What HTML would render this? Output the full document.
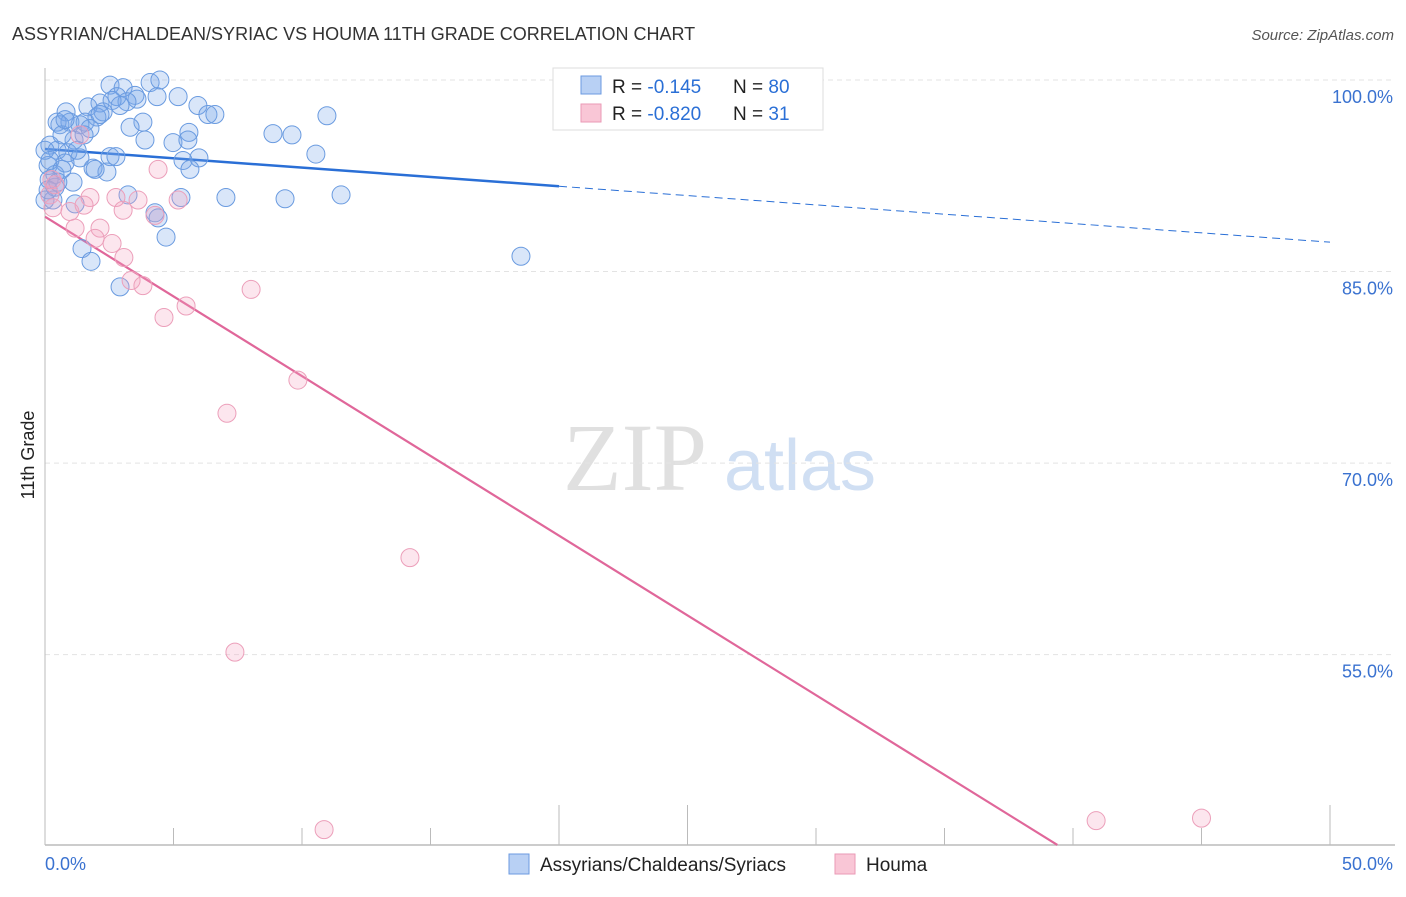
<!DOCTYPE html>
<html><head><meta charset="utf-8"><style>
body{margin:0;background:#fff;font-family:"Liberation Sans",sans-serif}
</style></head><body>
<svg width="1406" height="892" xmlns="http://www.w3.org/2000/svg" id="chart" font-family="Liberation Sans, sans-serif">
<text x="12" y="40" font-size="18" fill="#333">ASSYRIAN/CHALDEAN/SYRIAC VS HOUMA 11TH GRADE CORRELATION CHART</text>
<text x="1394" y="40" font-size="15" fill="#555" font-style="italic" text-anchor="end">Source: ZipAtlas.com</text>
<text x="34" y="455" font-size="18" fill="#222" text-anchor="middle" transform="rotate(-90 34 455)">11th Grade</text>
<g>
<text x="635" y="490" font-size="96" fill="#e0e0e0" font-family="Liberation Serif, serif" text-anchor="middle">ZIP</text>
<text x="800" y="490" font-size="72" fill="#d0dff3" text-anchor="middle">atlas</text>
</g>
<g id="grid"></g><g id="axes"></g><g id="lines"></g><g id="pts"></g>
<g>
<rect x="553" y="68" width="270" height="62" fill="#fff" stroke="#ddd"/>
<rect x="581" y="76" width="20" height="18" fill="#b8d0f4" stroke="#6b9ae0"/>
<rect x="581" y="104" width="20" height="18" fill="#f9c6d6" stroke="#ea9ab6"/>
<text x="612" y="93" font-size="19" fill="#222">R = <tspan fill="#2a6fd6">-0.145</tspan><tspan x="733">N = </tspan><tspan fill="#2a6fd6">80</tspan></text>
<text x="612" y="120" font-size="19" fill="#222">R = <tspan fill="#2a6fd6">-0.820</tspan><tspan x="733">N = </tspan><tspan fill="#2a6fd6"> 31</tspan></text>
</g>
<g>
<rect x="509" y="854" width="20" height="20" fill="#b8d0f4" stroke="#6b9ae0"/>
<text x="540" y="871" font-size="19" fill="#222">Assyrians/Chaldeans/Syriacs</text>
<rect x="835" y="854" width="20" height="20" fill="#f9c6d6" stroke="#ea9ab6"/>
<text x="866" y="871" font-size="19" fill="#222">Houma</text>
</g>
</svg>
<script>
const blueX=[2.53,4.09,4.47,3.04,3.50,2.80,4.36,5.18,3.58,2.14,1.67,3.19,5.95,0.82,2.26,6.34,6.61,2.02,0.47,0.97,1.56,0.58,1.36,3.81,3.31,1.75,10.97,8.87,9.61,5.60,3.89,4.98,5.56,1.13,0.19,0.47,0.89,1.36,2.53,2.76,10.54,5.37,5.99,0.78,0.12,1.87,2.41,5.64,0.39,0.16,1.09,0.39,3.23,5.29,7.04,9.34,11.52,1.17,4.28,4.40,4.71,1.44,1.79,2.92,18.52,0.0,0.0,0.19,0.66,0.31,1.95,2.14,2.61,2.92,0.78,0.12,1.52,1.25,0.66,0.5];
const blueY=[99.6,99.8,100,99.4,98.8,98.7,98.7,98.7,98.5,98.2,97.9,98.3,98.0,97.5,97.5,97.3,97.3,97.1,96.7,96.7,96.7,96.5,96.5,96.7,96.3,96.2,97.2,95.8,95.7,95.9,95.3,95.1,95.3,95.3,94.9,94.5,94.3,93.9,94.0,94.0,94.2,93.7,93.9,93.5,93.3,93.1,92.8,93.0,92.6,92.2,92.0,91.6,91.0,90.8,90.8,90.7,91.0,90.3,89.6,89.2,87.7,86.8,85.8,83.8,86.2,94.5,90.6,93.7,95.7,90.6,93.0,97.3,98.4,98.0,96.9,91.4,95.7,94.5,93.0,92.0];
const pinkX=[0.19,0.39,0.31,0.97,1.17,1.75,1.52,2.14,1.95,2.61,3.07,2.76,3.04,3.62,3.35,3.81,4.40,4.28,5.18,4.63,5.49,8.02,9.84,7.08,14.20,7.39,10.86,40.9,45.0,1.36,0.27];
const pinkY=[91.0,91.8,90.0,89.7,88.4,90.8,90.2,88.4,87.6,87.2,86.1,90.8,89.8,90.6,84.3,83.9,93.0,89.4,90.6,81.4,82.3,83.6,76.5,73.9,62.6,55.2,41.3,42.0,42.2,95.7,92.2];
const yTicks=[100,85,70,55];
const yTickLabels=["100.0%","85.0%","70.0%","55.0%"];
const xTickLabels=["0.0%","50.0%"];
const blueTrend=[94.6,-0.146]; // intercept, slope
const pinkTrend=[89.3,-1.249];
const NS="http://www.w3.org/2000/svg";
const X=v=>45+v*25.7, Y=v=>80+(100-v)*12.77;
function mk(tag,attrs,parent){const e=document.createElementNS(NS,tag);for(const k in attrs)e.setAttribute(k,attrs[k]);document.getElementById(parent).appendChild(e);return e;}
yTicks.forEach((t,i)=>{
 const g=mk('line',{x1:45,x2:1395,y1:Y(t),y2:Y(t),stroke:'#e3e3e3','stroke-dasharray':'5,4'},'grid');
 
 
 const l=mk('text',{x:1393,y:Y(t)+23,'font-size':18,fill:'#3a72d0','text-anchor':'end'},'grid');
 l.textContent=yTickLabels[i];
 
 
});
const ax=mk('line',{x1:45,x2:1395,y1:845,y2:845,stroke:'#bbb','stroke-width':1.5},'axes');


const ay=mk('line',{x1:45,x2:45,y1:68,y2:845,stroke:'#bbb'},'axes');


for(let i=0;i<=10;i++){const tall=(i==4||i==5||i==10);
 const t=mk('line',{x1:X(i*5),x2:X(i*5),y1:tall?805:828,y2:845,stroke:'#bbb'},'axes');
 
 }
[[0,45,'start'],[1,1393,'end']].forEach(([i,x,a])=>{const t=mk('text',{x:x,y:870,'font-size':18,fill:'#3a72d0','text-anchor':a},'axes');t.textContent=xTickLabels[i];
 
 });
function pts(xs,ys,fill,stroke,name){xs.forEach((x,i)=>{const c=mk('circle',{cx:X(x),cy:Y(ys[i]),r:9,fill:fill,stroke:stroke,'stroke-width':1},'pts');
 
 });}
pts(blueX,blueY,'rgba(120,165,235,0.28)','#6a9be0','assyrian-point');
pts(pinkX,pinkY,'rgba(245,165,195,0.28)','#ec9fba','houma-point');
const f=(t,x)=>t[0]+t[1]*x;
let l1=mk('line',{x1:X(0),y1:Y(f(blueTrend,0)),x2:X(20),y2:Y(f(blueTrend,20)),stroke:'#2a6fd6','stroke-width':2.5},'lines');


let l2=mk('line',{x1:X(20),y1:Y(f(blueTrend,20)),x2:X(50),y2:Y(f(blueTrend,50)),stroke:'#2a6fd6','stroke-width':1,'stroke-dasharray':'8,5'},'lines');


const pe=(40.1-pinkTrend[0])/pinkTrend[1];
let l3=mk('line',{x1:X(0),y1:Y(f(pinkTrend,0)),x2:X(pe),y2:Y(f(pinkTrend,pe)),stroke:'#e0679a','stroke-width':2.2},'lines');


</script>
</body></html>
